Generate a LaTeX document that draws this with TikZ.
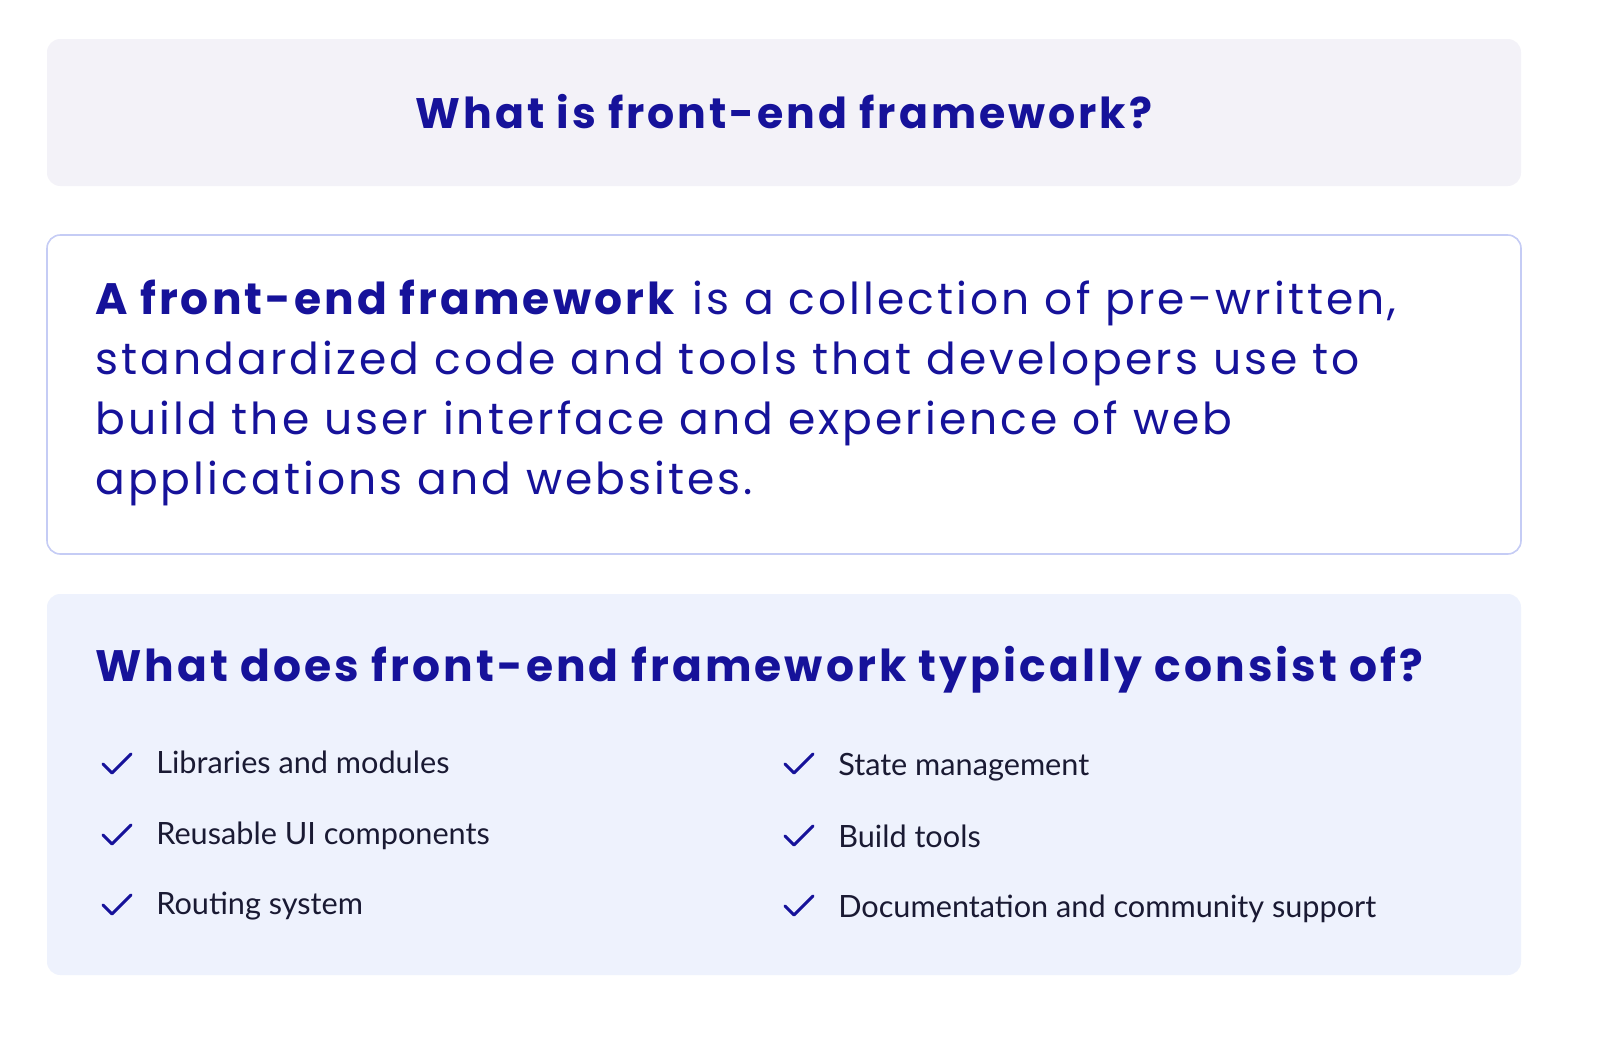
\documentclass[tikz,border=0pt]{standalone}
\usepackage{fontspec}
\setmainfont{Poppins}
\newfontfamily\wide[LetterSpace=7]{Poppins}
\newfontfamily\listfont{Lato}
\definecolor{navy}{HTML}{16129A}
\definecolor{titlebg}{HTML}{F3F2F8}
\definecolor{defborder}{HTML}{C5CCF5}
\definecolor{listbg}{HTML}{EEF2FD}
\definecolor{itemtext}{HTML}{1A1A33}
\begin{document}
\begin{tikzpicture}[x=0.75pt,y=-0.75pt,
  panel/.style={rounded corners=10pt},
  itemtxt/.style={anchor=base west,inner sep=0pt,text=itemtext,font=\listfont\fontsize{23}{27}\selectfont},
  chk/.style={draw=navy,line width=2.2pt,line cap=round,line join=round}]
\useasboundingbox (0,0) rectangle (1610,1042);
\fill[white] (0,0) rectangle (1610,1042);
\fill[titlebg,panel] (47,39) rectangle (1521,186);
\node[text=navy,font=\wide\fontsize{32}{36}\selectfont\bfseries] (title) at (784,112) {What is front-end framework?};
\draw[defborder,fill=white,line width=1.2pt,panel] (47,235) rectangle (1521,554);
\node[anchor=north west,inner sep=0pt,text=navy,align=left,font=\wide\fontsize{33}{45}\selectfont] (def) at (95,280)
 {\textbf{A front-end framework} is a collection of pre-written,\\standardized code and tools that developers use to\\build the user interface and experience of web\\applications and websites.};
\fill[listbg,panel] (47,594) rectangle (1521,975);
\node[anchor=base west,inner sep=0pt,text=navy,font=\wide\fontsize{33}{38}\selectfont\bfseries] (h2) at (95,681) {What does front-end framework typically consist of?};
\foreach \y/\t [count=\i] in {764/Libraries and modules,835/Reusable UI components,905/Routing system}{
  \draw[chk] (103,\y) -- (112,\y+9) -- (131,\y-10);
  \node[itemtxt] (l\i) at (156,\y+9) {\t};}
\foreach \y/\t [count=\i] in {766/State management,838/Build tools,908/Documentation and community support}{
  \draw[chk] (785,\y-2) -- (794,\y+7) -- (813,\y-12);
  \node[itemtxt] (r\i) at (838,\y+9) {\t};}
\end{tikzpicture}
\end{document}
